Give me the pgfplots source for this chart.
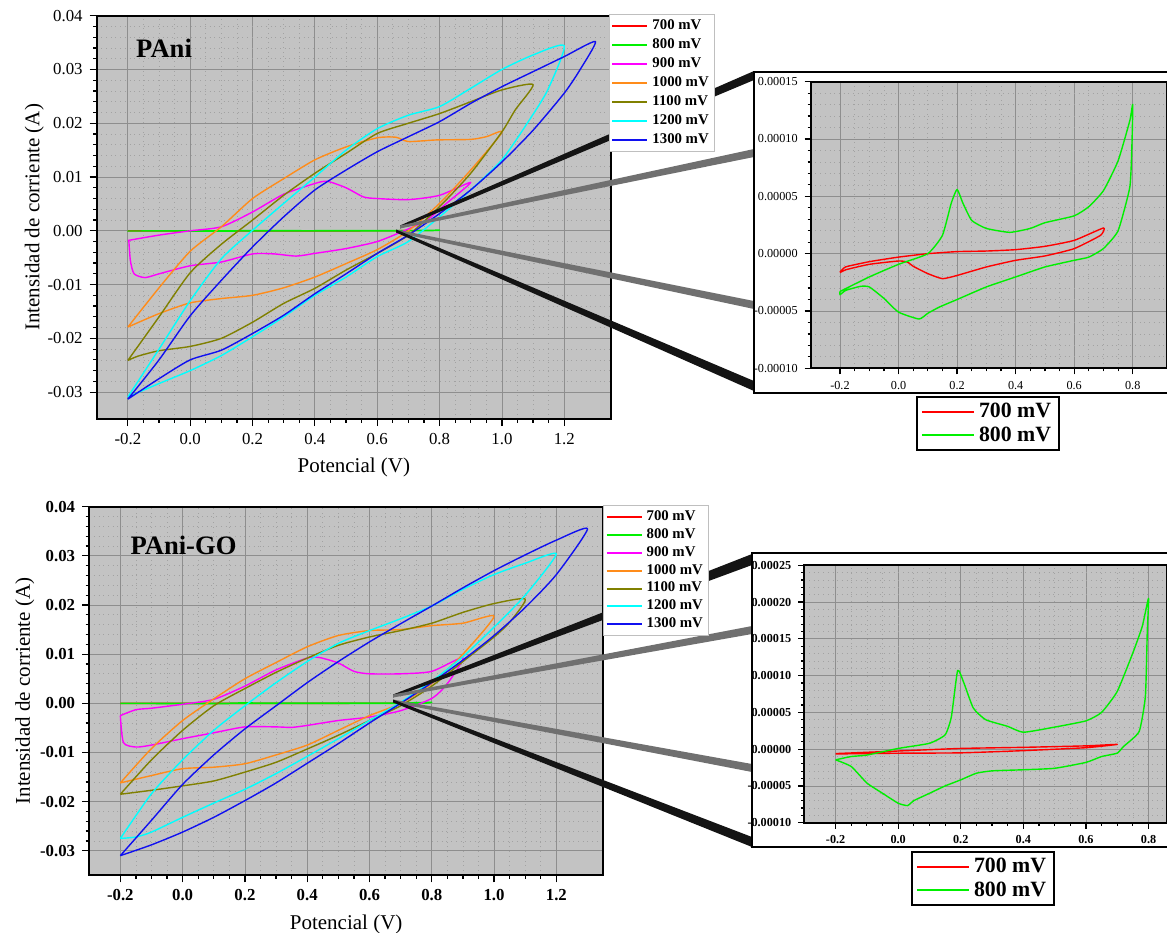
\documentclass[border=0pt]{standalone}
\usepackage{fontspec}
\setmainfont{Liberation Serif}
\usepackage{pgfplots}
\pgfplotsset{compat=1.18}
\definecolor{bgray}{HTML}{C3C3C3}
\definecolor{gmaj}{HTML}{8E8E8E}
\definecolor{gmin}{HTML}{A2A2A2}
\definecolor{c700}{HTML}{FF0000}
\definecolor{c800}{HTML}{00F000}
\definecolor{c900}{HTML}{FF00FF}
\definecolor{c1000}{HTML}{FF8C1A}
\definecolor{c1100}{HTML}{808000}
\definecolor{c1200}{HTML}{00FFFF}
\definecolor{c1300}{HTML}{1010F0}
\definecolor{wblack}{HTML}{141414}
\definecolor{wgray}{HTML}{707070}

\pgfplotsset{
    cvbase/.style={
        scale only axis,
        anchor=south west,
        axis background/.style={fill=bgray},
        grid=both,
        major grid style={line width=0.4pt, draw=gmaj},
        minor grid style={line width=0.35pt, draw=gmin, dotted},
        axis line style={line width=0.9pt},
        tick align=outside,
        tick pos=left,
        major tick length=3.5pt,
        minor tick length=1.8pt,
        tick style={black, line width=0.6pt},
        scaled ticks=false,
        xticklabel style={/pgf/number format/.cd, fixed, fixed zerofill, precision=1, assume math mode=true},
        every axis plot/.append style={line width=0.7pt, line join=round},
    },
    % main CV plots
    cvmain/.style={
        cvbase,
        xmin=-0.3, xmax=1.35, ymin=-0.035, ymax=0.04,
        xtick={-0.2,0,0.2,0.4,0.6,0.8,1.0,1.2},
        ytick={-0.03,-0.02,-0.01,0,0.01,0.02,0.03,0.04},
        minor x tick num=3,
        minor y tick num=4,
        yticklabel style={/pgf/number format/.cd, fixed, fixed zerofill, precision=2, assume math mode=true},
        label style={font=\fontsize{10.5}{12}\selectfont},
        xlabel={Potencial (V)},
        ylabel={Intensidad de corriente (A)},
        every axis plot/.append style={smooth, tension=0.4},
    },
    % legend only (drawn over the callout wedges)
    cvleg/.style={
        scale only axis, anchor=south west, hide axis,
        xmin=0, xmax=1, ymin=0, ymax=1,
        legend cell align=left,
        legend style={anchor=north west, draw=gray!50, fill=white, line width=0.5pt,
            font=\bfseries\fontsize{7.4}{8}\selectfont, inner xsep=1pt, inner ysep=0.5pt},
        legend image code/.code={\draw[##1, line width=1pt] (0pt,0pt) -- (17.5pt,0pt);},
    },
    % zoomed insets
    cvinset/.style={
        cvbase,
        xmin=-0.3, ymin=-0.0001,
        xtick={-0.2,0,0.2,0.4,0.6,0.8},
        minor x tick num=3,
        minor y tick num=4,
        major tick length=3pt,
        minor tick length=1.5pt,
        yticklabel style={/pgf/number format/.cd, fixed, fixed zerofill, precision=5, assume math mode=true},
        every axis plot/.append style={smooth, tension=0.3},
        legend cell align=left,
        legend style={anchor=north, draw=black, line width=1.1pt, fill=white,
            font=\bfseries\fontsize{10.9}{11}\selectfont, inner xsep=2pt, inner ysep=1pt, row sep=-1pt},
        legend image code/.code={\draw[##1, line width=1.1pt] (0pt,0pt) -- (26pt,0pt);},
    },
}

\begin{document}
\begin{tikzpicture}
\path[use as bounding box] (0pt,0pt) rectangle (583.5pt,-466pt);

% ---------------- PAni ----------------
\begin{axis}[cvmain, at={(48.35pt,-209.5pt)}, width=257.15pt, height=201.65pt,
    ylabel shift=-5pt,
    ticklabel style={font=\fontsize{8.4}{10}\selectfont}]
\addplot[c700] coordinates {
    (-0.2,-1.6e-5) (-0.18,-1.15e-5) (-0.1,-0.7e-5) (0.0,-0.3e-5) (0.1,0.0) (0.2,0.18e-5) (0.3,0.23e-5)
    (0.4,0.35e-5) (0.5,0.64e-5) (0.6,1.16e-5) (0.7,2.24e-5) (0.69,1.6e-5) (0.6,0.44e-5) (0.5,-0.2e-5)
    (0.4,-0.58e-5) (0.3,-1.16e-5) (0.2,-1.9e-5) (0.15,-2.18e-5) (0.1,-1.74e-5) (0.05,-1.1e-5)
    (0.03,-0.73e-5) (0.0,-0.64e-5) (-0.1,-0.93e-5) (-0.18,-1.4e-5) (-0.2,-1.66e-5)
};
\addplot[c800] coordinates {
    (-0.2,-3.3e-5) (-0.1,-2.03e-5) (0.0,-0.93e-5) (0.1,0.0) (0.15,1.6e-5) (0.18,4.4e-5) (0.2,5.6e-5)
    (0.22,4.4e-5) (0.25,2.9e-5) (0.3,2.2e-5) (0.38,1.86e-5) (0.45,2.2e-5) (0.5,2.7e-5) (0.6,3.3e-5)
    (0.65,4.1e-5) (0.7,5.5e-5) (0.75,8.1e-5) (0.79,11.6e-5) (0.8,13.0e-5) (0.797,9.3e-5) (0.79,5.8e-5)
    (0.75,2.0e-5) (0.7,0.45e-5) (0.65,-0.3e-5) (0.6,-0.58e-5) (0.5,-1.16e-5) (0.4,-2.03e-5)
    (0.3,-2.9e-5) (0.2,-4.0e-5) (0.14,-4.65e-5) (0.1,-5.2e-5) (0.07,-5.7e-5) (0.0,-5.1e-5)
    (-0.05,-3.9e-5) (-0.1,-2.9e-5) (-0.13,-2.85e-5) (-0.18,-3.2e-5) (-0.2,-3.58e-5) (-0.2,-3.3e-5)
};
\addplot[c900] coordinates {
    (-0.2,-0.0018) (-0.1,-0.0008) (0.0,0.0) (0.1,0.00075) (0.2,0.0035) (0.3,0.0068) (0.4,0.0088)
    (0.44,0.0092) (0.5,0.008) (0.556,0.0063) (0.6,0.006) (0.7,0.0058) (0.8,0.0066) (0.9,0.009)
    (0.82,0.005) (0.76,0.002) (0.69,0.0001) (0.6,-0.002) (0.5,-0.0033) (0.4,-0.0042) (0.34,-0.0047)
    (0.27,-0.0043) (0.2,-0.0043) (0.1,-0.0058) (0.0,-0.0065) (-0.1,-0.008) (-0.145,-0.0087)
    (-0.18,-0.008) (-0.192,-0.0055) (-0.197,-0.0017)
};
\addplot[c1000] coordinates {
    (-0.2,-0.0179) (-0.1,-0.0106) (0.0,-0.0038) (0.1,0.00075) (0.2,0.006) (0.3,0.0097) (0.4,0.0132)
    (0.5,0.0156) (0.6,0.0173) (0.66,0.0174) (0.7,0.0166) (0.79,0.0169) (0.9,0.017) (0.95,0.0175)
    (1.0,0.0183) (0.9,0.0113) (0.8,0.0051) (0.7,0.0) (0.6,-0.0035) (0.5,-0.0061) (0.4,-0.0086)
    (0.3,-0.0106) (0.2,-0.012) (0.1,-0.0126) (0.0,-0.0134) (-0.1,-0.0154) (-0.2,-0.0179)
};
\addplot[c1100] coordinates {
    (-0.2,-0.0241) (-0.1,-0.016) (0.0,-0.0078) (0.1,-0.0025) (0.2,0.002) (0.3,0.0066) (0.4,0.0107)
    (0.5,0.0144) (0.6,0.0181) (0.7,0.02) (0.8,0.0218) (0.9,0.024) (1.0,0.0262) (1.1,0.0272)
    (1.043,0.0225) (1.0,0.0184) (0.9,0.0107) (0.8,0.0045) (0.7,-0.0008) (0.6,-0.0042) (0.5,-0.0073)
    (0.4,-0.0107) (0.3,-0.0135) (0.2,-0.017) (0.1,-0.02) (0.0,-0.0215) (-0.1,-0.0223) (-0.167,-0.0233)
    (-0.2,-0.0241)
};
\addplot[c1200] coordinates {
    (-0.2,-0.0309) (-0.1,-0.022) (0.0,-0.013) (0.1,-0.0052) (0.2,0.0001) (0.3,0.0051) (0.4,0.01)
    (0.5,0.015) (0.6,0.019) (0.7,0.0215) (0.8,0.0231) (0.9,0.0265) (1.0,0.03) (1.1,0.0327) (1.2,0.0344)
    (1.147,0.0262) (1.088,0.0206) (1.0,0.0132) (0.9,0.0076) (0.8,0.0026) (0.7,-0.002) (0.6,-0.0048)
    (0.5,-0.0086) (0.4,-0.012) (0.3,-0.016) (0.2,-0.0197) (0.1,-0.0232) (0.0,-0.026) (-0.1,-0.0284)
    (-0.2,-0.0309)
};
\addplot[c1300] coordinates {
    (-0.2,-0.0313) (-0.1,-0.024) (0.0,-0.0158) (0.1,-0.0092) (0.2,-0.003) (0.3,0.0026) (0.4,0.0076)
    (0.5,0.0113) (0.6,0.0147) (0.7,0.0175) (0.8,0.0203) (0.9,0.0237) (1.0,0.0268) (1.1,0.0296)
    (1.2,0.0324) (1.3,0.0352) (1.25,0.0299) (1.2,0.0256) (1.1,0.0187) (1.0,0.0128) (0.9,0.0076)
    (0.8,0.0032) (0.7,-0.0008) (0.6,-0.0042) (0.5,-0.008) (0.4,-0.0117) (0.3,-0.0157) (0.2,-0.0191)
    (0.1,-0.0222) (0.0,-0.024) (-0.1,-0.0275) (-0.2,-0.0313)
};
\node[font=\bfseries\fontsize{13.3}{15}\selectfont] at (rel axis cs:0.131,0.92) {PAni};
\end{axis}

% ---------------- PAni-GO ----------------
\begin{axis}[cvmain, at={(44.6pt,-437.65pt)}, width=256.95pt, height=184.3pt,
    ylabel shift=-4pt,
    ticklabel style={font=\bfseries\fontsize{8.4}{10}\selectfont}]
\addplot[c700] coordinates {
    (-0.2,-0.6e-5) (0.0,-0.25e-5) (0.2,0.1e-5) (0.4,0.25e-5) (0.6,0.45e-5) (0.7,0.65e-5)
    (0.6,0.2e-5) (0.4,-0.2e-5) (0.2,-0.5e-5) (0.0,-0.55e-5) (-0.2,-0.65e-5)
};
\addplot[c800] coordinates {
    (-0.2,-1.45e-5) (-0.15,-1.0e-5) (-0.1,-0.8e-5) (0.0,0.1e-5) (0.1,0.8e-5) (0.15,1.95e-5)
    (0.17,4.4e-5) (0.19,10.7e-5) (0.21,9.0e-5) (0.24,5.6e-5) (0.28,4.0e-5) (0.35,3.1e-5)
    (0.4,2.3e-5) (0.5,3.0e-5) (0.6,3.85e-5) (0.65,5.0e-5) (0.7,7.85e-5) (0.75,13.1e-5)
    (0.78,16.7e-5) (0.8,20.5e-5) (0.796,16.0e-5) (0.79,7.2e-5) (0.77,2.4e-5) (0.72,0.36e-5)
    (0.7,-0.54e-5) (0.65,-1.0e-5) (0.6,-1.8e-5) (0.5,-2.6e-5) (0.4,-2.8e-5) (0.3,-2.95e-5)
    (0.25,-3.27e-5) (0.2,-4.17e-5) (0.15,-5.0e-5) (0.1,-6.0e-5) (0.05,-7.0e-5) (0.03,-7.67e-5)
    (0.0,-7.35e-5) (-0.05,-6.0e-5) (-0.1,-4.6e-5) (-0.15,-2.36e-5) (-0.2,-1.45e-5)
};
\addplot[c900] coordinates {
    (-0.2,-0.0025) (-0.15,-0.0013) (-0.1,-0.001) (0.0,-0.0002) (0.1,0.0008) (0.2,0.0035) (0.3,0.0068)
    (0.4,0.0092) (0.44,0.0093) (0.5,0.0082) (0.55,0.0065) (0.6,0.006) (0.7,0.006) (0.8,0.0065)
    (0.9,0.0093) (0.85,0.004) (0.8,0.001) (0.7,-0.0015) (0.6,-0.0028) (0.5,-0.0035) (0.4,-0.0045)
    (0.35,-0.0049) (0.3,-0.0048) (0.2,-0.0048) (0.1,-0.006) (0.0,-0.0072) (-0.1,-0.0085)
    (-0.15,-0.0089) (-0.19,-0.008) (-0.2,-0.0025)
};
\addplot[c1000] coordinates {
    (-0.2,-0.0162) (-0.1,-0.0092) (0.0,-0.0035) (0.1,0.0009) (0.2,0.005) (0.3,0.0083) (0.4,0.0115)
    (0.5,0.0138) (0.6,0.0148) (0.7,0.015) (0.8,0.0158) (0.9,0.0163) (1.0,0.0177) (0.9,0.010)
    (0.8,0.004) (0.7,0.0) (0.6,-0.0025) (0.5,-0.0055) (0.4,-0.0085) (0.3,-0.0105) (0.2,-0.0123)
    (0.1,-0.013) (0.0,-0.0133) (-0.1,-0.0147) (-0.2,-0.0162)
};
\addplot[c1100] coordinates {
    (-0.2,-0.0185) (-0.1,-0.0115) (0.0,-0.0055) (0.1,-0.0005) (0.2,0.003) (0.3,0.0063) (0.4,0.0092)
    (0.5,0.0118) (0.6,0.0135) (0.7,0.0148) (0.8,0.0163) (0.9,0.0185) (1.0,0.0203) (1.1,0.0212)
    (1.05,0.0165) (1.0,0.0135) (0.9,0.0085) (0.8,0.0035) (0.7,-0.0005) (0.6,-0.0035) (0.5,-0.0065)
    (0.4,-0.0093) (0.3,-0.012) (0.2,-0.014) (0.1,-0.0158) (0.0,-0.0168) (-0.1,-0.0177) (-0.2,-0.0185)
};
\addplot[c1200] coordinates {
    (-0.2,-0.0275) (-0.1,-0.0184) (0.0,-0.0115) (0.1,-0.0055) (0.2,-0.0005) (0.3,0.0042) (0.4,0.0085)
    (0.5,0.0122) (0.6,0.0148) (0.7,0.0172) (0.8,0.0198) (0.9,0.0232) (1.0,0.0262) (1.1,0.0285)
    (1.2,0.0304) (1.1,0.022) (1.0,0.0155) (0.9,0.0095) (0.8,0.0045) (0.7,0.0002) (0.6,-0.0035)
    (0.5,-0.0072) (0.4,-0.0108) (0.3,-0.0143) (0.2,-0.0175) (0.1,-0.0203) (0.0,-0.0232)
    (-0.1,-0.0262) (-0.15,-0.0272) (-0.2,-0.0275)
};
\addplot[c1300] coordinates {
    (-0.2,-0.031) (-0.1,-0.0238) (0.0,-0.0165) (0.1,-0.0105) (0.2,-0.0052) (0.3,-0.0005) (0.4,0.0042)
    (0.5,0.0085) (0.6,0.0125) (0.7,0.0162) (0.8,0.0198) (0.9,0.0235) (1.0,0.027) (1.1,0.0302)
    (1.2,0.0332) (1.3,0.0355) (1.2,0.0262) (1.1,0.0195) (1.0,0.0138) (0.9,0.0088) (0.8,0.0042)
    (0.7,0.0) (0.6,-0.004) (0.5,-0.0082) (0.4,-0.0122) (0.3,-0.0162) (0.2,-0.0198) (0.1,-0.0232)
    (0.0,-0.0262) (-0.1,-0.0288) (-0.2,-0.031)
};
\node[font=\bfseries\fontsize{13.3}{15}\selectfont] at (rel axis cs:0.1835,0.896) {PAni-GO};
\end{axis}

% ---------------- callout wedges (pixel units) ----------------
\begin{scope}[x=0.5pt, y=-0.5pt]
\fill[wblack] (400,225.5) -- (754,71) -- (754,80) -- (400,228.5) -- cycle;
\fill[wgray]  (400,225.5) -- (754,149) -- (754,157) -- (400,228.5) -- cycle;
\fill[wgray]  (396,229.5) -- (754,301) -- (754,309) -- (396,232.5) -- cycle;
\fill[wblack] (396,229.5) -- (754,381) -- (754,391) -- (396,232.5) -- cycle;
\fill[wblack] (393,694.5) -- (752,554) -- (752,565) -- (393,697.5) -- cycle;
\fill[wgray]  (393,694.5) -- (752,626) -- (752,634) -- (393,697.5) -- cycle;
\fill[wgray]  (393,699.5) -- (752,764) -- (752,772) -- (393,702.5) -- cycle;
\fill[wblack] (393,699.5) -- (752,837) -- (752,847) -- (393,702.5) -- cycle;
\end{scope}

% ---------------- legends of the main plots ----------------
\begin{axis}[cvleg, at={(48.35pt,-209.5pt)}, width=257.15pt, height=201.65pt,
    legend style={at={(0.996,1.005)}, row sep=-0.9pt}]
\addlegendimage{c700}\addlegendentry{700 mV}
\addlegendimage{c800}\addlegendentry{800 mV}
\addlegendimage{c900}\addlegendentry{900 mV}
\addlegendimage{c1000}\addlegendentry{1000 mV}
\addlegendimage{c1100}\addlegendentry{1100 mV}
\addlegendimage{c1200}\addlegendentry{1200 mV}
\addlegendimage{c1300}\addlegendentry{1300 mV}
\end{axis}
\begin{axis}[cvleg, at={(44.6pt,-437.65pt)}, width=256.95pt, height=184.3pt,
    legend style={at={(1.0,1.005)}, row sep=-1.45pt}]
\addlegendimage{c700}\addlegendentry{700 mV}
\addlegendimage{c800}\addlegendentry{800 mV}
\addlegendimage{c900}\addlegendentry{900 mV}
\addlegendimage{c1000}\addlegendentry{1000 mV}
\addlegendimage{c1100}\addlegendentry{1100 mV}
\addlegendimage{c1200}\addlegendentry{1200 mV}
\addlegendimage{c1300}\addlegendentry{1300 mV}
\end{axis}

% ---------------- inset frames ----------------
\begin{scope}[x=0.5pt, y=-0.5pt]
\draw[fill=white, line width=1pt] (754,72) rectangle (1180,393);
\draw[fill=white, line width=1pt] (752,553) rectangle (1180,847);
\end{scope}

% ---------------- inset PAni ----------------
\begin{axis}[cvinset, at={(405.35pt,-184.15pt)}, width=178.15pt, height=143.3pt,
    xmax=0.917, ymax=0.00015,
    ytick={-0.0001,-0.00005,0,0.00005,0.0001,0.00015},
    ticklabel style={font=\fontsize{6.1}{7}\selectfont},
    legend style={at={(0.4976,-0.0967)}}]
\addplot[c700] coordinates {
    (-0.2,-1.6e-5) (-0.18,-1.15e-5) (-0.1,-0.7e-5) (0.0,-0.3e-5) (0.1,0.0) (0.2,0.18e-5) (0.3,0.23e-5)
    (0.4,0.35e-5) (0.5,0.64e-5) (0.6,1.16e-5) (0.7,2.24e-5) (0.69,1.6e-5) (0.6,0.44e-5) (0.5,-0.2e-5)
    (0.4,-0.58e-5) (0.3,-1.16e-5) (0.2,-1.9e-5) (0.15,-2.18e-5) (0.1,-1.74e-5) (0.05,-1.1e-5)
    (0.03,-0.73e-5) (0.0,-0.64e-5) (-0.1,-0.93e-5) (-0.18,-1.4e-5) (-0.2,-1.66e-5)
};
\addlegendentry{700 mV}
\addplot[c800] coordinates {
    (-0.2,-3.3e-5) (-0.1,-2.03e-5) (0.0,-0.93e-5) (0.1,0.0) (0.15,1.6e-5) (0.18,4.4e-5) (0.2,5.6e-5)
    (0.22,4.4e-5) (0.25,2.9e-5) (0.3,2.2e-5) (0.38,1.86e-5) (0.45,2.2e-5) (0.5,2.7e-5) (0.6,3.3e-5)
    (0.65,4.1e-5) (0.7,5.5e-5) (0.75,8.1e-5) (0.79,11.6e-5) (0.8,13.0e-5) (0.797,9.3e-5) (0.79,5.8e-5)
    (0.75,2.0e-5) (0.7,0.45e-5) (0.65,-0.3e-5) (0.6,-0.58e-5) (0.5,-1.16e-5) (0.4,-2.03e-5)
    (0.3,-2.9e-5) (0.2,-4.0e-5) (0.14,-4.65e-5) (0.1,-5.2e-5) (0.07,-5.7e-5) (0.0,-5.1e-5)
    (-0.05,-3.9e-5) (-0.1,-2.9e-5) (-0.13,-2.85e-5) (-0.18,-3.2e-5) (-0.2,-3.58e-5) (-0.2,-3.3e-5)
};
\addlegendentry{800 mV}
\end{axis}

% ---------------- inset PAni-GO ----------------
\begin{axis}[cvinset, at={(402.15pt,-411.35pt)}, width=181.35pt, height=128.7pt,
    xmax=0.859, ymax=0.00025,
    ytick={-0.0001,-0.00005,0,0.00005,0.0001,0.00015,0.0002,0.00025},
    ticklabel style={font=\bfseries\fontsize{6.1}{7}\selectfont},
    legend style={at={(0.4927,-0.11)}}]
\addplot[c700] coordinates {
    (-0.2,-0.6e-5) (0.0,-0.25e-5) (0.2,0.1e-5) (0.4,0.25e-5) (0.6,0.45e-5) (0.7,0.65e-5)
    (0.6,0.2e-5) (0.4,-0.2e-5) (0.2,-0.5e-5) (0.0,-0.55e-5) (-0.2,-0.65e-5)
};
\addlegendentry{700 mV}
\addplot[c800] coordinates {
    (-0.2,-1.45e-5) (-0.15,-1.0e-5) (-0.1,-0.8e-5) (0.0,0.1e-5) (0.1,0.8e-5) (0.15,1.95e-5)
    (0.17,4.4e-5) (0.19,10.7e-5) (0.21,9.0e-5) (0.24,5.6e-5) (0.28,4.0e-5) (0.35,3.1e-5)
    (0.4,2.3e-5) (0.5,3.0e-5) (0.6,3.85e-5) (0.65,5.0e-5) (0.7,7.85e-5) (0.75,13.1e-5)
    (0.78,16.7e-5) (0.8,20.5e-5) (0.796,16.0e-5) (0.79,7.2e-5) (0.77,2.4e-5) (0.72,0.36e-5)
    (0.7,-0.54e-5) (0.65,-1.0e-5) (0.6,-1.8e-5) (0.5,-2.6e-5) (0.4,-2.8e-5) (0.3,-2.95e-5)
    (0.25,-3.27e-5) (0.2,-4.17e-5) (0.15,-5.0e-5) (0.1,-6.0e-5) (0.05,-7.0e-5) (0.03,-7.67e-5)
    (0.0,-7.35e-5) (-0.05,-6.0e-5) (-0.1,-4.6e-5) (-0.15,-2.36e-5) (-0.2,-1.45e-5)
};
\addlegendentry{800 mV}
\end{axis}
\end{tikzpicture}
\end{document}
